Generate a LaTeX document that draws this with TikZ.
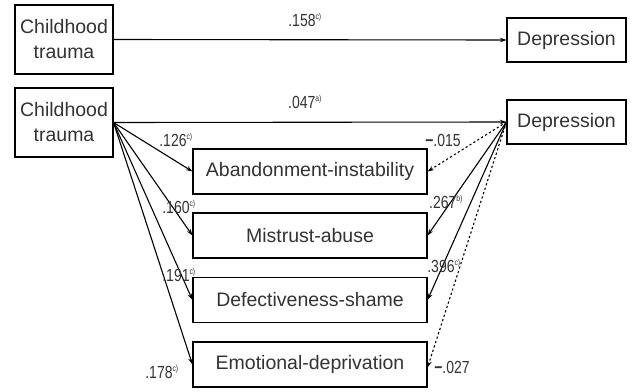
\documentclass[tikz,border=0pt]{standalone}
\usepackage{fontspec}
\usepackage{graphicx}
\setmainfont{Liberation Sans}
\usetikzlibrary{arrows.meta}
\newcommand{\sps}[1]{\textsuperscript{\fontsize{8.5}{9}\selectfont #1}}
\newcommand{\nar}[1]{\scalebox{0.8}[1]{#1}}
\begin{document}
\begin{tikzpicture}[x=1pt,y=-1pt,
  box/.style={draw,line width=1.1pt,inner sep=0pt,font=\fontsize{19.5}{25}\selectfont,text=black!80,align=center},
  arr/.style={line width=1.1pt,-{Stealth[length=6.5pt,width=4.5pt]}},
  dotarr/.style={arr,dash pattern=on 2.2pt off 2.4pt},
  lab/.style={font=\fontsize{17.5}{18}\selectfont,text=black!80,inner sep=0pt}]
\useasboundingbox[fill=white] (0,0) rectangle (634,391);
% top model
\node[box,minimum width=98pt,minimum height=69pt] (ct1) at (64,39.5) {Childhood\\trauma};
\node[box,minimum width=119pt,minimum height=44pt] (dep1) at (566.5,40) {Depression};
\draw[arr] (ct1.east) -- (dep1.west);
\node[lab] (l158) at (305,20) {\nar{.158\sps{c)}}};
% mediation model
\node[box,minimum width=98pt,minimum height=69pt] (ct2) at (64,122.5) {Childhood\\trauma};
\node[box,minimum width=119pt,minimum height=44pt] (dep2) at (566.5,122) {Depression};
\node[box,minimum width=234pt,minimum height=45pt] (ab) at (310,171.5) {Abandonment-instability};
\node[box,minimum width=234pt,minimum height=45pt] (mi) at (310,235.5) {Mistrust-abuse};
\node[box,minimum width=234pt,minimum height=45pt] (de) at (310,300) {Defectiveness-shame};
\node[box,minimum width=234pt,minimum height=45pt] (em) at (310,364.5) {Emotional-deprivation};
\draw[arr] (ct2.east) -- (dep2.west);
\draw[arr] (ct2.east) -- (ab.west);
\draw[arr] (ct2.east) -- (mi.west);
\draw[arr] (ct2.east) -- (de.west);
\draw[arr] (ct2.east) -- (em.west);
\draw[dotarr] (dep2.west) -- (ab.east);
\draw[arr] (dep2.west) -- (mi.east);
\draw[arr] (dep2.west) -- (de.east);
\draw[dotarr] (dep2.west) -- ([yshift=-3pt]em.east);
% labels
\node[lab] (l047) at (305,102) {\nar{.047\sps{a)}}};
\node[lab] (l126) at (176,140) {\nar{.126\sps{c)}}};
\node[lab] (l160) at (179,207) {\nar{.160\sps{c)}}};
\node[lab] (l191) at (179,275) {\nar{.191\sps{c)}}};
\node[lab] (l178) at (162,372) {\nar{.178\sps{c)}}};
\node[lab] (l015) at (443,140) {\nar{{\bfseries −}.015}};
\node[lab] (l267) at (446,202) {\nar{.267\sps{b)}}};
\node[lab] (l396) at (444,266) {\nar{.396\sps{c)}}};
\node[lab] (l027) at (452,367) {\nar{{\bfseries −}.027}};
\end{tikzpicture}
\end{document}
